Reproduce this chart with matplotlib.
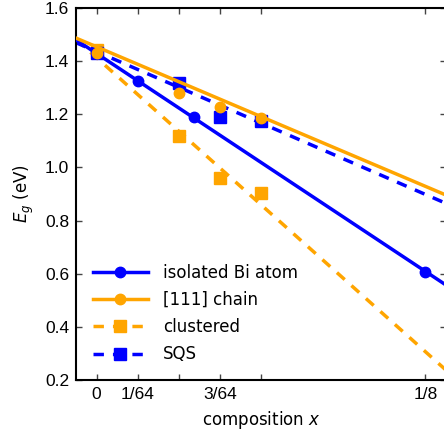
"""
Band gap vs Bi composition for different Bi arrangements.
"""
import numpy as np
import matplotlib
matplotlib.use("Agg")
import matplotlib.pyplot as plt

# data points (x = Bi composition, y = Eg in eV)
x_isolated = [0, 1 / 64, 1 / 27, 1 / 8]
eg_isolated = [1.43, 1.326, 1.19, 0.607]

x_chain = [0, 1 / 32, 3 / 64, 1 / 16]
eg_chain = [1.43, 1.279, 1.229, 1.187]

x_clustered = [0, 1 / 32, 3 / 64, 1 / 16]
eg_clustered = [1.442, 1.118, 0.959, 0.903]

x_sqs = [0, 1 / 32, 3 / 64, 1 / 16]
eg_sqs = [1.43, 1.317, 1.189, 1.176]

# linear fits: Eg = a + b * x
fit_isolated = (1.429, -6.56)
fit_chain = (1.454, -4.20)
fit_clustered = (1.413, -8.85)
fit_sqs = (1.436, -4.30)

x_ticks = [0, 1 / 64, 2 / 64, 3 / 64, 4 / 64, 8 / 64]
x_ticklabels = ["0", "1/64", "", "3/64", "", "1/8"]
y_ticks = [0.2, 0.4, 0.6, 0.8, 1.0, 1.2, 1.4, 1.6]

BLUE = "#0000ff"
ORANGE = "#ffa500"

plt.rcParams["font.family"] = ["DejaVu Sans"]

fig = plt.figure(figsize=(4.44, 4.33), dpi=100)
ax = fig.add_axes([0.1712, 0.1224, 0.8330, 0.8591])

xlim = (-0.5 / 64, 8.5 / 64)
xx = np.array(xlim)
lw = 2.5
dash = (3.0, 2.6)

series = [
    ("isolated Bi atom", x_isolated, eg_isolated, fit_isolated, BLUE, "o", "-", 3),
    ("[111] chain", x_chain, eg_chain, fit_chain, ORANGE, "o", "-", 4),
    ("clustered", x_clustered, eg_clustered, fit_clustered, ORANGE, "s", "--", 2),
    ("SQS", x_sqs, eg_sqs, fit_sqs, BLUE, "s", "--", 2),
]

handles = []
for label, xs, ys, (a, b), color, marker, ls, z in series:
    ms = 7.5 if marker == "o" else 9
    line, = ax.plot(xx, a + b * xx, color=color, lw=lw, ls=ls, zorder=z)
    if ls == "--":
        line.set_dashes(dash)
    ax.plot(xs, ys, ls="none", marker=marker, ms=ms, color=color,
            mec=color, zorder=z + 0.5)
    h, = ax.plot([], [], color=color, lw=lw, ls=ls, marker=marker, ms=ms)
    if ls == "--":
        h.set_dashes(dash)
    handles.append(h)

ax.set_xlim(*xlim)
ax.set_ylim(0.2, 1.6)
ax.set_xticks(x_ticks)
ax.set_xticklabels(x_ticklabels)
ax.set_yticks(y_ticks)
ax.set_yticklabels([f"{v:.1f}" for v in y_ticks])

for lab in ax.get_xticklabels() + ax.get_yticklabels():
    lab.set_fontfamily("Liberation Sans")
    lab.set_fontsize(12.5)

ax.tick_params(direction="in", length=4.5, width=1, color="#444444",
               top=True, right=True, pad=5)
for sp in ax.spines.values():
    sp.set_linewidth(1.5)

ax.set_xlabel("composition $x$", fontsize=12, labelpad=5)
ax.set_ylabel("$E_g$ (eV)", fontsize=12, labelpad=6)

ax.legend(handles, [s[0] for s in series], loc="lower left",
          bbox_to_anchor=(0.0, 0.0), frameon=False, fontsize=12,
          handlelength=3.3, handletextpad=0.9, labelspacing=0.55,
          numpoints=1, borderaxespad=0.6)

fig.savefig("out.png", dpi=100)
